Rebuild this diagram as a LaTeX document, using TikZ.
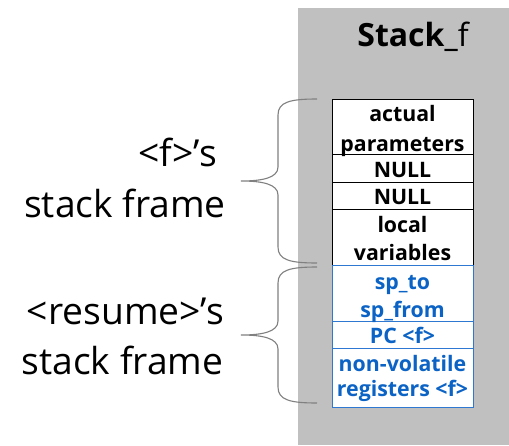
\documentclass[tikz,border=0pt]{standalone}
\usepackage{fontspec}
\setmainfont{Open Sans}
\definecolor{panelgray}{HTML}{C0C0C0}
\definecolor{txtblue}{HTML}{0B63C5}
\definecolor{lineblue}{HTML}{2F78D2}
\definecolor{bracegray}{HTML}{808080}
\begin{document}
\begin{tikzpicture}[x=1pt,y=-1pt,
  cellbase/.style={rectangle, minimum width=141pt, inner sep=0pt, fill=white, line width=1pt},
  blackcell/.style={cellbase, draw=black},
  bluecell/.style={cellbase, draw=lineblue},
  celltext/.style={anchor=base, inner sep=0pt, font=\fontsize{21.3}{24}\selectfont\bfseries},
  bluetext/.style={celltext, text=txtblue},
  bigtext/.style={anchor=base east, inner sep=0pt, font=\fontsize{37.2}{44}\selectfont},
  bracepath/.style={draw=bracegray, line width=1.1pt}]
\useasboundingbox (0,0) rectangle (509,445);
\fill[white] (0,0) rectangle (509,445);
\fill[panelgray] (298,8) rectangle (509,445);

% title
\node[anchor=base, inner sep=0pt] (title) at (413,46) {\fontsize{32}{36}\selectfont\textbf{Stack\_}f};

% black cells
\node[blackcell, minimum height=55pt] (c1) at (402.5,126.5) {};
\node[blackcell, minimum height=28pt] (c2) at (402.5,168) {};
\node[blackcell, minimum height=27pt] (c3) at (402.5,195.5) {};
\node[blackcell, minimum height=56pt] (c4) at (402.5,237) {};
% blue cells
\node[bluecell, minimum height=56pt] (c5) at (402.5,293) {};
\node[bluecell, minimum height=27pt] (c6) at (402.5,334.5) {};
\node[bluecell, minimum height=59pt] (c7) at (402.5,377.5) {};

% cell texts
\node[celltext] (t1a) at (402.5,121.7) {actual};
\node[celltext] (t1b) at (402.5,151) {parameters};
\node[celltext] (t2) at (402.5,177.3) {NULL};
\node[celltext] (t3) at (402.5,204) {NULL};
\node[celltext] (t4a) at (402.5,232.7) {local};
\node[celltext] (t4b) at (402.5,260) {variables};
\node[bluetext] (t5a) at (402.5,289) {sp\_to};
\node[bluetext] (t5b) at (402.5,317.7) {sp\_from};
\node[bluetext] (t6) at (402.5,343.3) {PC <f>};
\node[bluetext] (t7a) at (402.5,371) {non-volatile};
\node[bluetext] (t7b) at (402.5,396.7) {registers <f>};

% left labels
\node[bigtext] (l1a) at (217,166) {<f>’s};
\node[bigtext] (l1b) at (226,217.3) {stack frame};
\node[bigtext] (l2a) at (224,324.3) {<resume>’s};
\node[bigtext] (l2b) at (223.5,374.3) {stack frame};

% braces
\coordinate (b1top) at (317,99);
\coordinate (b1bot) at (317,263);
\coordinate (b1tip) at (241,181);
\draw[bracepath] (b1top) .. controls (290,99) and (278,102) .. (278,115)
  -- (278,167) .. controls (278,178) and (262,181) .. (b1tip)
  .. controls (262,181) and (278,184) .. (278,195)
  -- (278,247) .. controls (278,260) and (290,263) .. (b1bot);
\coordinate (b2top) at (317,267);
\coordinate (b2bot) at (317,403);
\coordinate (b2tip) at (241,335);
\draw[bracepath] (b2top) .. controls (290,267) and (278,270) .. (278,283)
  -- (278,321) .. controls (278,332) and (262,335) .. (b2tip)
  .. controls (262,335) and (278,338) .. (278,349)
  -- (278,387) .. controls (278,400) and (290,403) .. (b2bot);
\end{tikzpicture}
\end{document}
